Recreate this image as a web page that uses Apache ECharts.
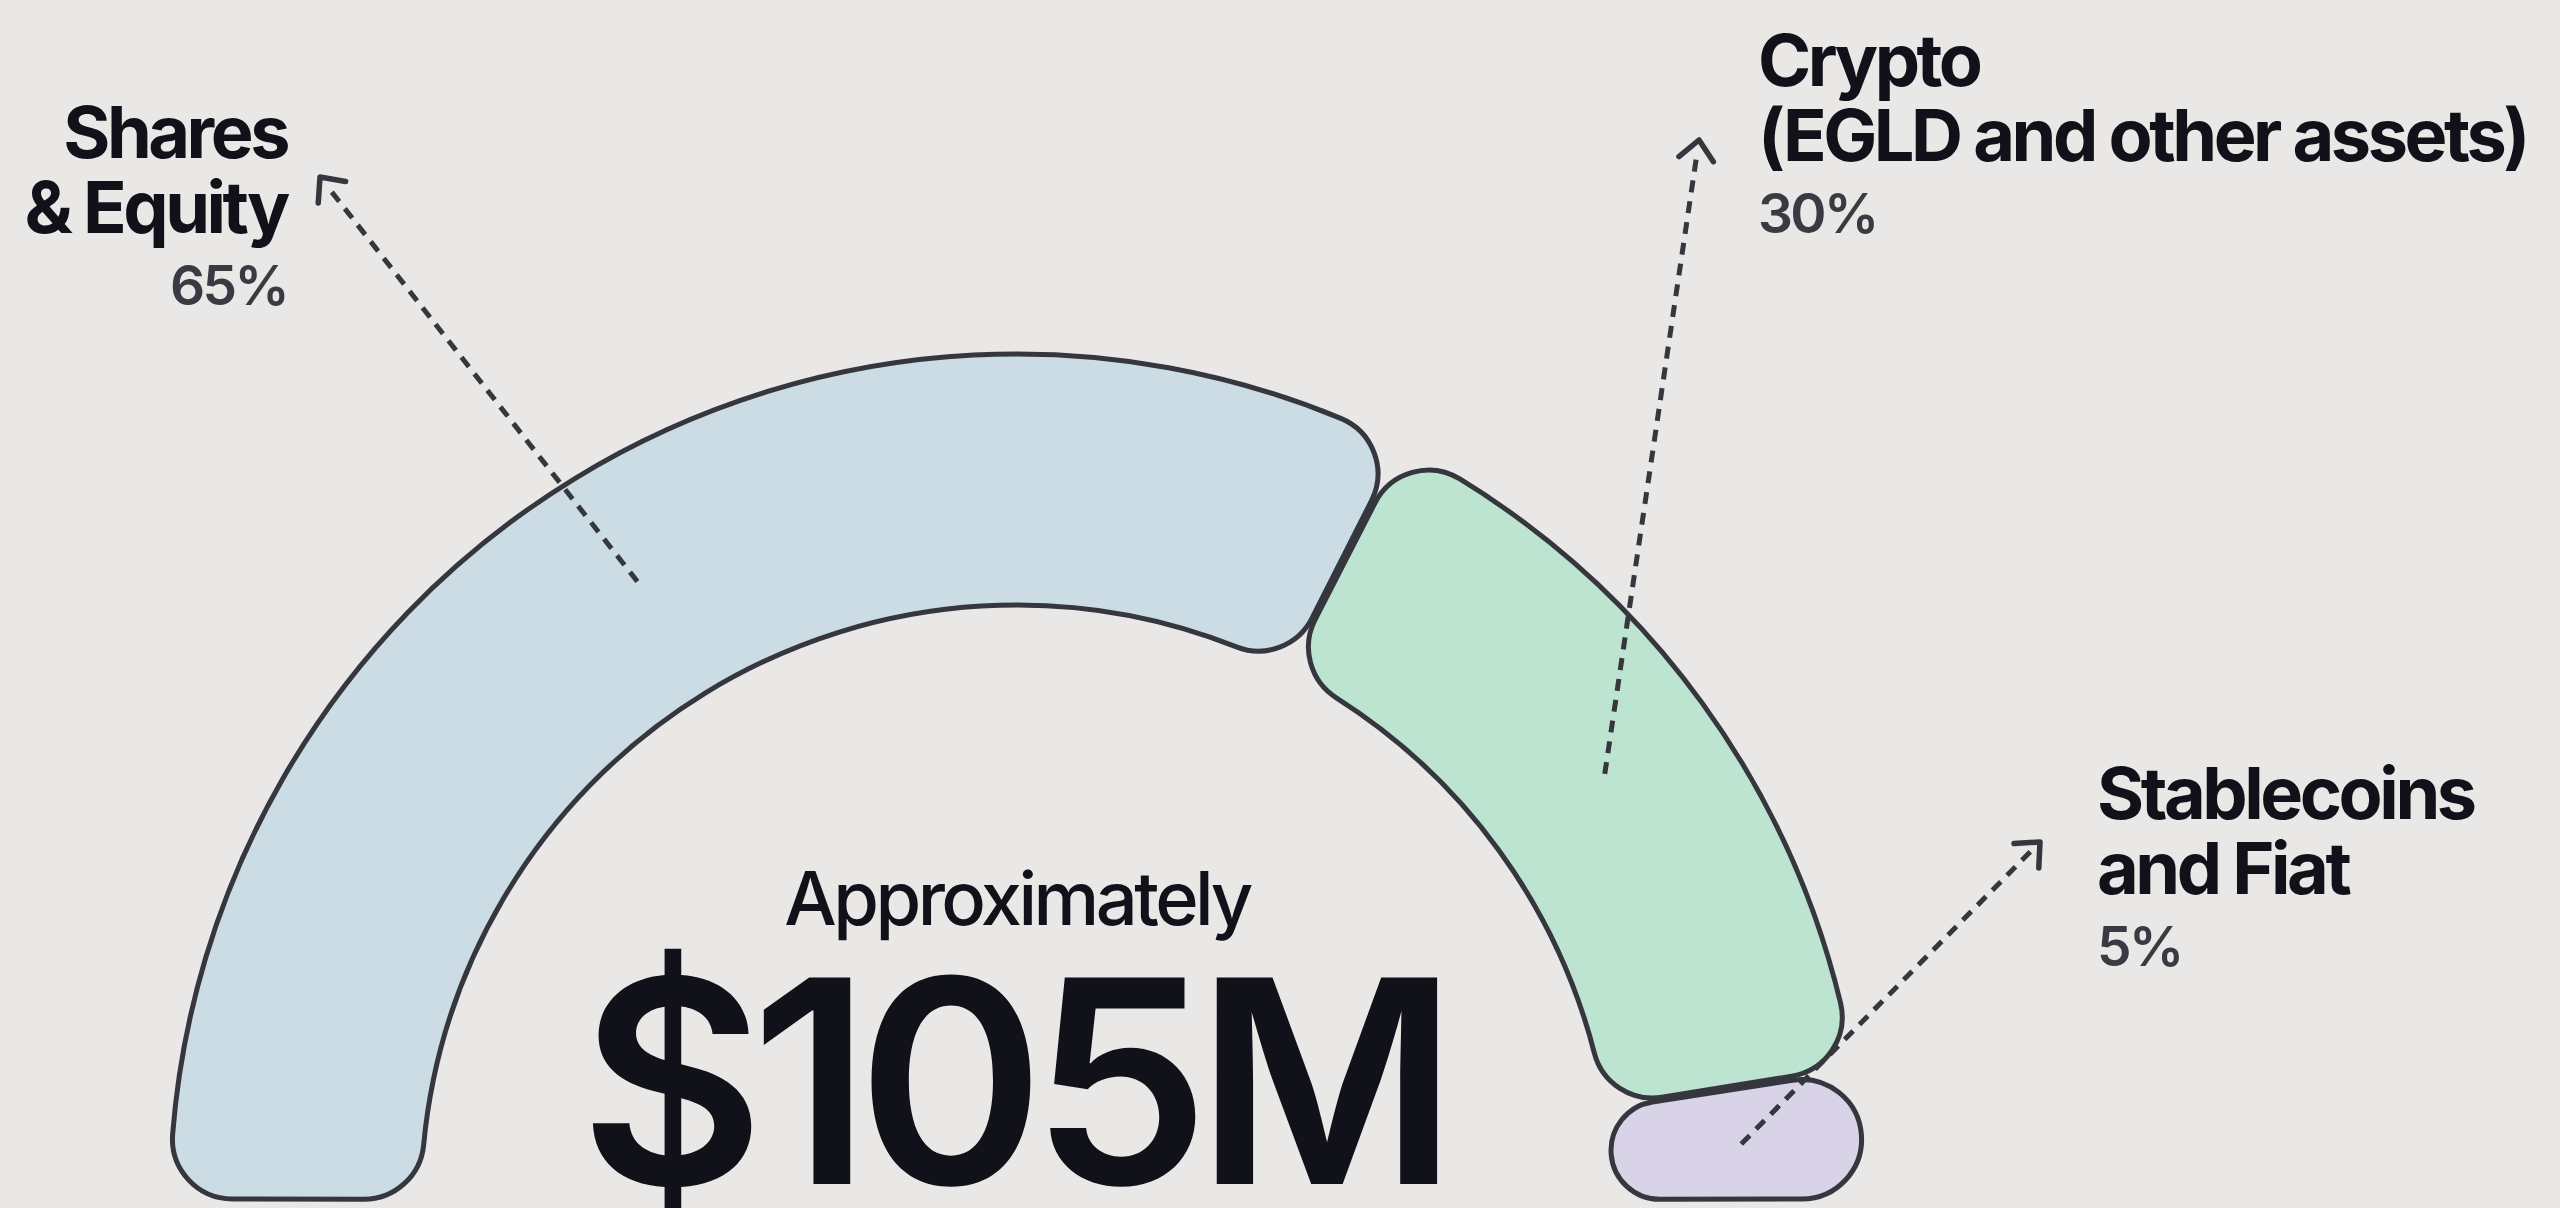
<!DOCTYPE html>
<html>
<head>
<meta charset="utf-8">
<title>Treasury allocation</title>
<script src="https://cdn.jsdelivr.net/npm/echarts@6/dist/echarts.min.js"></script>
<style>
    html, body { margin: 0; padding: 0; background: #e9e8e6; }
    #chart { width: 2560px; height: 1208px; }
    #chart text { letter-spacing: -0.048em; }
</style>
</head>
<body>
<div id="chart"></div>
<script>
const categories = ['Shares\n& Equity', 'Crypto\n(EGLD and other assets)', 'Stablecoins\nand Fiat'];
const percentages = [65, 30, 5];
const centerCaption = 'Approximately';
const centerValue = '$105M';

const sliceColors = ['#ccdce5', '#bde4d0', '#d8d3e6'];
const ink = '#111119';
const outline = '#36363e';

const CENTER = [1017, 1201];
const RADII = [596, 847];

// top corner of each label block, and the point its arrow reaches
const labelSpots = [
    { x: 287, y: 94, align: 'right', tip: [320, 177] },
    { x: 1758, y: 22, align: 'left', tip: [1699, 140] },
    { x: 2097, y: 755, align: 'left', tip: [2040, 842] }
];

const sliceMid = (i) => {
    const total = percentages.reduce((a, b) => a + b, 0);
    const before = percentages.slice(0, i).reduce((a, b) => a + b, 0);
    const ang = Math.PI - (before + percentages[i] / 2) / total * Math.PI;
    const r = RADII[0] + (RADII[1] - RADII[0]) * 0.52;
    return [CENTER[0] + r * Math.cos(ang), CENTER[1] - r * Math.sin(ang)];
};

const arrowFor = (i) => {
    const [sx, sy] = sliceMid(i);
    const [tx, ty] = labelSpots[i].tip;
    const len = Math.hypot(tx - sx, ty - sy);
    const ux = (tx - sx) / len, uy = (ty - sy) / len;
    const arm = (deg) => {
        const c = Math.cos(deg * Math.PI / 180), s = Math.sin(deg * Math.PI / 180);
        return [tx + 26 * (-ux * c + uy * s), ty + 26 * (-ux * s - uy * c)];
    };
    return [
        {
            type: 'line', z: 100,
            shape: { x1: sx, y1: sy, x2: tx - ux * 13, y2: ty - uy * 13 },
            style: { stroke: outline, lineWidth: 5, lineDash: [12, 9] }
        },
        {
            type: 'polyline', z: 100,
            shape: { points: [arm(42), [tx, ty], arm(-42)] },
            style: { stroke: outline, lineWidth: 5.5, fill: 'none', lineCap: 'round', lineJoin: 'round' }
        }
    ];
};

const chart = echarts.init(document.getElementById('chart'), null, { renderer: 'svg' });

chart.setOption({
    backgroundColor: '#e9e8e6',
    animation: false,
    series: [{
        type: 'pie',
        silent: true,
        center: CENTER,
        radius: RADII,
        startAngle: 180,
        endAngle: 0,
        padAngle: 0.3,
        avoidLabelOverlap: false,
        itemStyle: { borderColor: outline, borderWidth: 5, borderRadius: 60 },
        data: categories.map((name, i) => ({
            name,
            value: percentages[i],
            itemStyle: { color: sliceColors[i] }
        })),
        label: {
            show: true,
            formatter: (p) => p.name.split('\n').map(l => `{n|${l}}`).join('\n') + `\n{p|${p.value}%}`,
            rich: {
                n: { fontFamily: 'Inter', fontWeight: 650, fontSize: 72, lineHeight: 75, color: ink },
                p: { fontFamily: 'Inter', fontWeight: 600, fontSize: 55, lineHeight: 82, color: '#3a3a42' }
            }
        },
        labelLine: { show: false },
        labelLayout: (p) => {
            const spot = labelSpots[p.dataIndex];
            return { x: spot.x, y: spot.y, align: spot.align, verticalAlign: 'top' };
        }
    }],
    graphic: [
        ...percentages.flatMap((_, i) => arrowFor(i)),
        {
            type: 'text', x: 1017, y: 898, z: 100,
            style: { text: centerCaption, fontFamily: 'Inter', fontWeight: 550, fontSize: 74, fill: ink, align: 'center', verticalAlign: 'middle' }
        },
        {
            type: 'text', x: 1012, y: 1081, z: 100,
            style: { text: centerValue, fontFamily: 'Inter', fontWeight: 620, fontSize: 284, fill: ink, align: 'center', verticalAlign: 'middle' }
        }
    ]
});
</script>
</body>
</html>
